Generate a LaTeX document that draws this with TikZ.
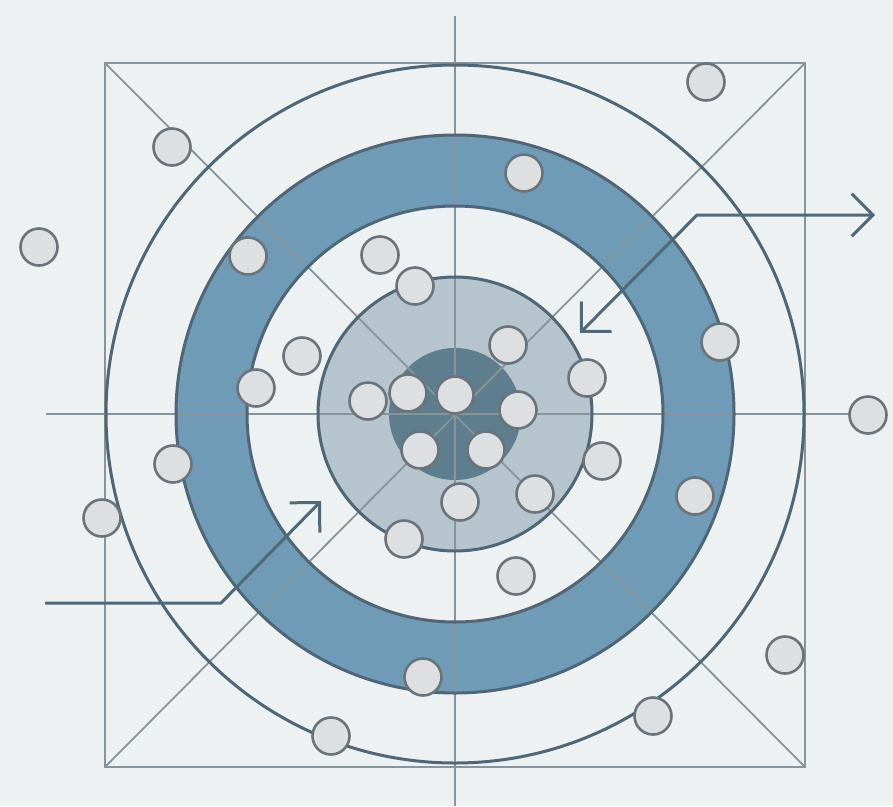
\documentclass[tikz,border=0pt]{standalone}
\usetikzlibrary{arrows.meta}
\definecolor{bg}{RGB}{238,241,242}
\definecolor{guide}{RGB}{135,148,155}
\definecolor{edgec}{RGB}{78,102,117}
\definecolor{ringblue}{RGB}{112,155,183}
\definecolor{ringgray}{RGB}{182,196,205}
\definecolor{core}{RGB}{94,125,143}
\definecolor{dotfill}{RGB}{221,223,225}
\definecolor{dotedge}{RGB}{105,115,121}
\definecolor{arrowc}{RGB}{80,105,120}
\begin{document}
\begin{tikzpicture}[x=1pt,y=-1pt,
  guideline/.style={draw=guide, line width=1.8pt},
  ringedge/.style={draw=edgec, line width=3pt},
  dot/.style={circle, draw=dotedge, fill=dotfill, line width=2.6pt, minimum size=37pt, inner sep=0pt},
  pointer/.style={draw=arrowc, line width=3pt, line join=miter}]
\useasboundingbox (0,0) rectangle (893,806);
\fill[bg] (0,0) rectangle (893,806);
\coordinate (O) at (455,414);
% ring fills
\fill[ringblue] (O) circle[radius=279];
\fill[bg] (O) circle[radius=208];
\fill[ringgray] (O) circle[radius=137];
\fill[core] (O) circle[radius=66];
% guide lines
\coordinate (sqtl) at (105,63);
\coordinate (sqtr) at (805,63);
\coordinate (sqbl) at (105,767);
\coordinate (sqbr) at (805,767);
\coordinate (vtop) at (455,16);
\coordinate (vbot) at (455,806);
\coordinate (hl) at (46,414);
\coordinate (hr) at (849,414);
\draw[guideline] (sqtl) rectangle (sqbr);
\draw[guideline] (sqtl) -- (sqbr);
\draw[guideline] (sqtr) -- (sqbl);
\draw[guideline] (vtop) -- (vbot);
\draw[guideline] (hl) -- (hr);
% ring edges
\draw[ringedge] (O) circle[radius=349];
\draw[ringedge] (O) circle[radius=279];
\draw[ringedge] (O) circle[radius=208];
\draw[ringedge] (O) circle[radius=137];
% arrows
\coordinate (a1s) at (45,603);
\coordinate (a1b) at (221,603);
\coordinate (a1t) at (321,501);
\draw[pointer, -{Straight Barb[angle=90:30pt]}] (a1s) -- (a1b) -- (a1t);
\coordinate (a2t) at (580,333);
\coordinate (a2b) at (697,215);
\coordinate (a2e) at (875,215);
\draw[pointer, {Straight Barb[angle=90:30pt]}-{Straight Barb[angle=90:30pt]}] (a2t) -- (a2b) -- (a2e);
% dots
\node[dot] (d1) at (706,82) {};
\node[dot] (d2) at (172,147) {};
\node[dot] (d3) at (39,247) {};
\node[dot] (d4) at (524,173) {};
\node[dot] (d5) at (248,256) {};
\node[dot] (d6) at (380,255) {};
\node[dot] (d7) at (415,286) {};
\node[dot] (d8) at (720,342) {};
\node[dot] (d9) at (302,356) {};
\node[dot] (d10) at (256,388) {};
\node[dot] (d11) at (508,345) {};
\node[dot] (d12) at (587,378) {};
\node[dot] (d13) at (368,401) {};
\node[dot] (d14) at (408,393) {};
\node[dot] (d15) at (455,395) {};
\node[dot] (d16) at (518,410) {};
\node[dot] (d17) at (868,415) {};
\node[dot] (d18) at (173,464) {};
\node[dot] (d19) at (420,450) {};
\node[dot] (d20) at (486,450) {};
\node[dot] (d21) at (602,461) {};
\node[dot] (d22) at (695,496) {};
\node[dot] (d23) at (102,518) {};
\node[dot] (d24) at (460,502) {};
\node[dot] (d25) at (535,494) {};
\node[dot] (d26) at (404,539) {};
\node[dot] (d27) at (516,576) {};
\node[dot] (d28) at (423,677) {};
\node[dot] (d29) at (785,655) {};
\node[dot] (d30) at (653,716) {};
\node[dot] (d31) at (331,736) {};
\end{tikzpicture}
\end{document}
